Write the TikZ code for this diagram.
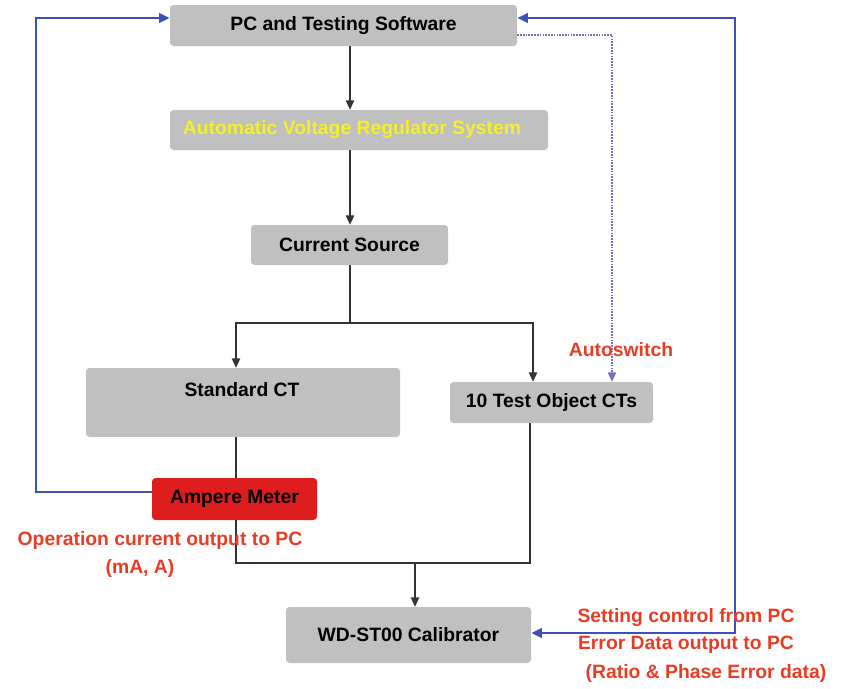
\documentclass[tikz,border=0pt]{standalone}
\usepackage{fontspec}
\setmainfont{Liberation Sans}
\usetikzlibrary{arrows.meta}
\definecolor{boxgray}{RGB}{192,192,192}
\definecolor{meterred}{RGB}{222,30,30}
\definecolor{lblred}{RGB}{232,60,35}
\definecolor{linkblue}{RGB}{60,80,185}
\definecolor{dotblue}{RGB}{120,110,190}
\definecolor{avryellow}{RGB}{245,240,40}
\newcommand{\dfont}{\bfseries\fontsize{16.5}{19}\selectfont}
\tikzset{
  gbox/.style={fill=boxgray, rounded corners=3pt, inner sep=0pt, font=\dfont},
  blk/.style={draw=black!80, line width=1.5pt, -{Triangle[length=8pt,width=7pt]}},
  blkline/.style={draw=black!80, line width=1.5pt},
  blu/.style={draw=linkblue, line width=2.4pt},
  bluarrow/.style={-{Triangle[length=9pt,width=8pt]}},
  lbl/.style={text=lblred, font=\dfont, inner sep=0pt},
}
\begin{document}
\begin{tikzpicture}[x=0.03cm,y=-0.03cm]
\useasboundingbox (0,0) rectangle (847,688);
% boxes
\node[gbox, minimum width=347*0.03cm, minimum height=41*0.03cm] (pc) at (343.5,25.5) {PC and Testing Software};
\node[gbox, minimum width=378*0.03cm, minimum height=40*0.03cm, text=avryellow] (avr) at (359,130) {\hspace*{-12pt}Automatic Voltage Regulator System};
\node[gbox, minimum width=197*0.03cm, minimum height=40*0.03cm] (cs) at (349.5,245) {Current Source};
\node[gbox, minimum width=314*0.03cm, minimum height=69*0.03cm] (std) at (243,402.5) {};
\node[font=\dfont, inner sep=0pt] (stdt) at (242,390) {Standard CT};
\node[gbox, minimum width=203*0.03cm, minimum height=41*0.03cm] (toc) at (551.5,402.5) {10 Test Object CTs};
\node[fill=meterred, rounded corners=3pt, inner sep=0pt, minimum width=165*0.03cm, minimum height=42*0.03cm, font=\dfont] (am) at (234.5,499) {Ampere Meter};
\node[gbox, minimum width=245*0.03cm, minimum height=56*0.03cm] (cal) at (408.5,635) {WD-ST00 Calibrator};
% coordinates
\coordinate (j1) at (350,323);
\coordinate (jl) at (236,323);
\coordinate (jr) at (533,323);
\coordinate (b1) at (236,563);
\coordinate (b2) at (530,563);
\coordinate (bm) at (415,563);
\coordinate (lt) at (36,492);
\coordinate (ltt) at (36,18);
\coordinate (rt) at (735,18);
\coordinate (rb) at (735,633);
\coordinate (d1) at (612,35);
% black connectors
\draw[blk] (pc.south -| 350,0) -- (avr.north -| 350,0);
\draw[blk] (avr.south -| 350,0) -- (cs.north -| 350,0);
\draw[blkline] (cs.south -| j1) -- (j1);
\draw[blk] (jl) -- (jr) -- (toc.north -| jr);
\draw[blk] (jr) -- (jl) -- (std.north -| jl);
\draw[blkline] (std.south -| jl) -- (am.north -| jl);
\draw[blkline] (am.south -| b1) -- (b1) -- (b2) -- (toc.south -| b2);
\draw[blk] (bm) -- (cal.north -| bm);
% blue connectors
\draw[blu, bluarrow] (am.west |- lt) -- (lt) -- (ltt) -- (pc.west |- ltt);
\draw[blu, bluarrow] (rb) -- (rt) -- (pc.east |- rt);
\draw[blu, bluarrow] (rt) -- (rb) -- (cal.east |- rb);
\draw[draw=dotblue, line width=1.4pt, densely dotted, -{Triangle[length=8pt,width=7pt]}] (pc.east |- d1) -- (d1) -- (toc.north -| d1);
% labels
\node[lbl] (auto) at (621,350) {Autoswitch};
\node[lbl] (op1) at (160,540) {Operation current output to PC};
\node[lbl] (op2) at (140,568) {(mA, A)};
\node[lbl] (s1) at (686,618) {Setting control from PC};
\node[lbl] (s2) at (686,645) {Error Data output to PC};
\node[lbl] (s3) at (706,673) {(Ratio \& Phase Error data)};
\end{tikzpicture}
\end{document}
